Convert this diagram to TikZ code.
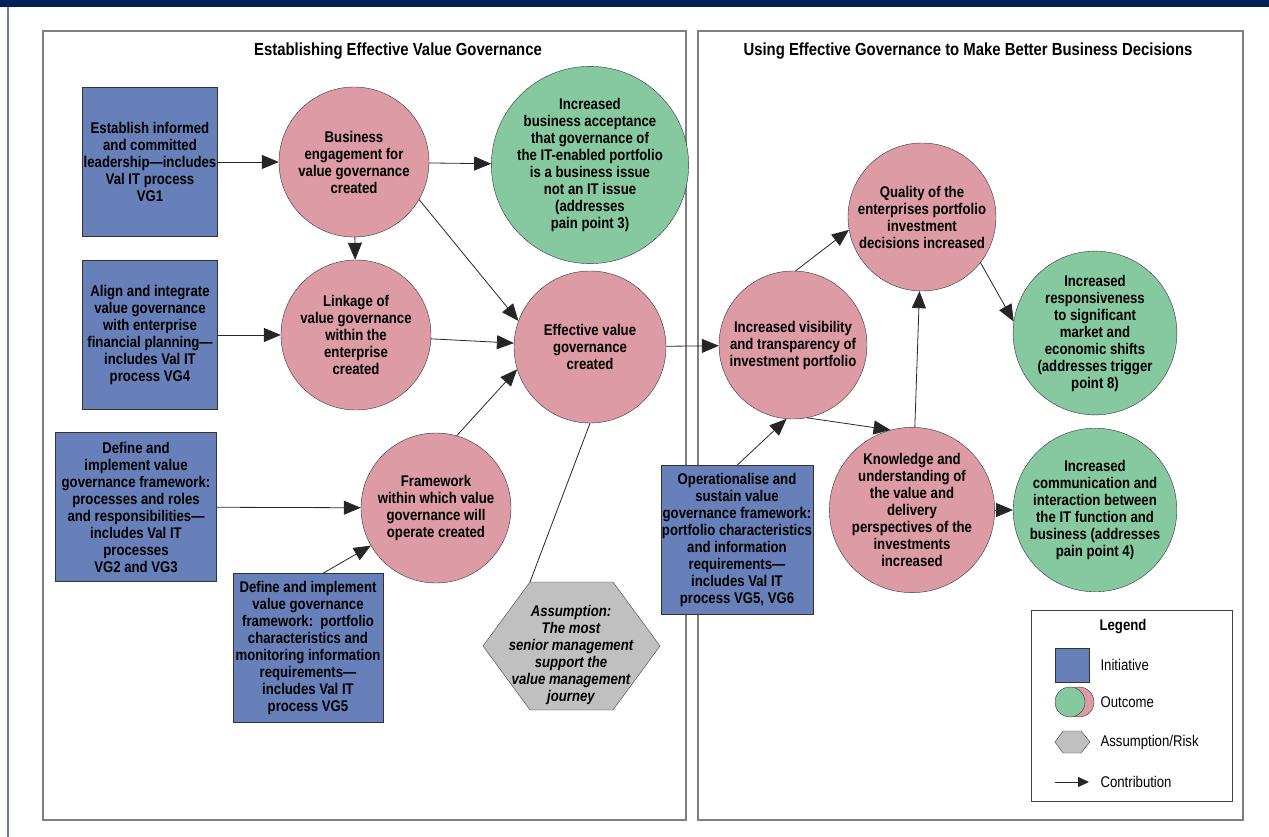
\documentclass[tikz,border=0pt]{standalone}
\usepackage{fontspec}
\setmainfont[FakeStretch=0.85]{Liberation Sans}
\usetikzlibrary{arrows.meta}
\definecolor{navy}{HTML}{002157}
\definecolor{initblue}{HTML}{6780B9}
\definecolor{outpink}{HTML}{DC9BA5}
\definecolor{outgreen}{HTML}{86C9A0}
\definecolor{assumgray}{HTML}{C0C0C0}
\definecolor{framegray}{HTML}{808080}

\begin{document}
\begin{tikzpicture}[x=1pt, y=-1pt, font=\fontsize{15.5}{17}\selectfont\bfseries,
    initiative/.style={draw=black!80, fill=initblue, minimum width=135pt, minimum height=149pt, align=center, inner sep=1pt},
    outcome/.style={circle, draw=black!80, fill=outpink, minimum size=150pt, inner sep=0pt, align=center},
    endoutcome/.style={outcome, fill=outgreen},
    contrib/.style={draw=black!85, line width=0.8pt, -{Triangle[length=17pt, width=14pt]}},
    panel/.style={draw=framegray, line width=1.5pt},
    paneltitle/.style={font=\fontsize{17.5}{19}\selectfont\bfseries},
    keylabel/.style={anchor=west, font=\fontsize{15.5}{17}\selectfont\mdseries}]
    \useasboundingbox (0,0) rectangle (1269,837);
    \fill[navy] (0,0) rectangle (1269,7);
    \draw[navy!60, line width=1.5pt] (8,7) -- (8,837);
    \draw[panel] (43,31) rectangle (686,820);
    \draw[panel] (698,31) rectangle (1243,820);
    \node[paneltitle] (lefttitle) at (398,51) {Establishing Effective Value Governance};
    \node[paneltitle] (righttitle) at (968,51) {Using Effective Governance to Make Better Business Decisions};

    \node[initiative] (vg1) at (150,162) {Establish informed\\and committed\\leadership—includes\\Val IT process\\VG1};
    \node[initiative] (vg4) at (150,335) {Align and integrate\\value governance\\with enterprise\\financial planning—\\includes Val IT\\process VG4};
    \node[initiative, minimum width=161pt] (vg23) at (136,507) {Define and\\implement value\\governance framework:\\processes and roles\\and responsibilities—\\includes Val IT\\processes\\VG2 and VG3};
    \node[initiative, minimum width=150pt] (vg5) at (308,648) {Define and implement\\value governance\\framework:\ \ portfolio\\characteristics and\\monitoring information\\requirements—\\includes Val IT\\process VG5};
    \node[initiative, minimum width=150pt] (vg56) at (737,540) {Operationalise and\\sustain value\\governance framework:\\portfolio characteristics\\and information\\requirements—\\includes Val IT\\process VG5, VG6};

    \node[outcome] (engage) at (354,162) {Business\\engagement for\\value governance\\created};
    \node[endoutcome, minimum size=155pt] (accept) at (590,165) {Increased\\business acceptance\\that governance of\\the IT-enabled portfolio\\is a business issue\\not an IT issue\\(addresses\\pain point 3)};
    \node[outcome] (linkage) at (356,335) {Linkage of\\value governance\\within the\\enterprise\\created};
    \node[outcome, minimum size=152pt] (effective) at (590,347) {Effective value\\governance\\created};
    \node[outcome] (framework) at (436,508) {Framework\\within which value\\governance will\\operate created};
    \node[outcome, minimum size=148pt] (visibility) at (793,345) {Increased visibility\\and transparency of\\investment portfolio};
    \node[outcome, minimum size=148pt] (quality) at (922,217) {Quality of the\\enterprises portfolio\\investment\\decisions increased};
    \node[endoutcome, minimum size=156pt] (respond) at (1095,333) {Increased\\responsiveness\\to significant\\market and\\economic shifts\\(addresses trigger\\point 8)};
    \node[outcome, minimum size=152pt] (knowledge) at (912,510) {Knowledge and\\understanding of\\the value and\\delivery\\perspectives of the\\investments\\increased};
    \node[endoutcome, minimum size=156pt] (communicate) at (1095,510) {Increased\\communication and\\interaction between\\the IT function and\\business (addresses\\pain point 4)};

    \draw[draw=black!75, fill=assumgray] (530,582) -- (613,582) -- (660,646) -- (613,710) -- (530,710) -- (483,646) -- cycle;
    \coordinate (hextop) at (530,582);
    \node[font=\fontsize{15.5}{17}\selectfont\bfseries\itshape, align=center] (assume) at (571,655) {Assumption:\\The most\\senior management\\support the\\value management\\journey};

    \draw[contrib] (vg1) -- (engage);
    \draw[contrib] (engage) -- (accept);
    \draw[contrib] (engage) -- (linkage);
    \draw[contrib] (engage.-30) -- (effective.160);
    \draw[contrib] (vg4) -- (linkage);
    \draw[contrib] (linkage) -- (effective);
    \draw[contrib] (vg23) -- (framework);
    \draw[contrib] ([xshift=15pt]vg5.north) -- (framework.210);
    \draw[contrib] (framework.74) -- (effective.197);
    \draw[contrib] (effective) -- (visibility);
    \draw[contrib] (vg56.north) -- (visibility.265);
    \draw[contrib] (visibility.88) -- (quality.190);
    \draw[contrib] (knowledge) -- (quality);
    \draw[contrib] (quality.-38) -- (respond.172);
    \draw[contrib] (visibility.-79) -- (knowledge.105);
    \draw[contrib] (knowledge) -- (communicate);
    \draw[draw=black!85, line width=0.8pt] (effective.south) -- (hextop);

    \node[draw=black!75, line width=1pt, minimum width=201pt, minimum height=191pt] (legend) at (1131.5,705.5) {};
    \node (legendtitle) at (1123,627) {Legend};
    \node[draw=black!80, fill=initblue, minimum size=34pt, inner sep=0pt] (keyinit) at (1072,665) {};
    \node[keylabel] at (1097,665) {Initiative};
    \node[circle, draw=black!80, fill=outpink, minimum size=30pt, inner sep=0pt] (keypink) at (1079,702) {};
    \node[circle, draw=black!80, fill=outgreen, minimum size=30pt, inner sep=0pt] (keygreen) at (1070,702) {};
    \node[keylabel] at (1097,702) {Outcome};
    \draw[draw=black!75, fill=assumgray] (1055,742) -- (1063,731) -- (1081,731) -- (1090,742) -- (1081,753) -- (1063,753) -- cycle;
    \node[keylabel] at (1097,742) {Assumption/Risk};
    \coordinate (keyfrom) at (1055,782);
    \coordinate (keyto) at (1089,782);
    \draw[draw=black!85, line width=0.8pt, -{Triangle[length=11pt, width=10pt]}] (keyfrom) -- (keyto);
    \node[keylabel] at (1097,782) {Contribution};
\end{tikzpicture}
\end{document}
